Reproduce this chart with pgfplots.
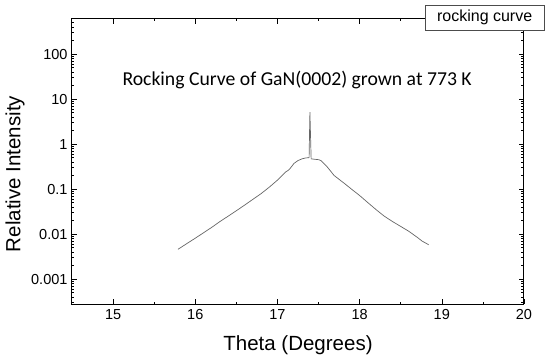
\documentclass[border=0pt]{standalone}
\usepackage{pgfplots}
\pgfplotsset{compat=1.18}
\usepackage{fontspec}
\setmainfont{Liberation Sans}
\newfontfamily\carlito{Carlito}
\begin{document}
\begin{tikzpicture}
\path[use as bounding box] (-72pt,-55pt) rectangle (478pt,304pt);
\begin{axis}[
  scale only axis, width=452pt, height=285pt,
  ymode=log,
  xmin=14.5, xmax=20, ymin=2.8e-4, ymax=600,
  xtick={15,16,17,18,19,20},
  minor x tick num=1,
  ytick={0.001,0.01,0.1,1,10,100},
  yticklabels={0.001,0.01,0.1,1,10,100},
  minor ytick={3e-4,4e-4,5e-4,6e-4,7e-4,8e-4,9e-4,
    0.002,0.003,0.004,0.005,0.006,0.007,0.008,0.009,
    0.02,0.03,0.04,0.05,0.06,0.07,0.08,0.09,
    0.2,0.3,0.4,0.5,0.6,0.7,0.8,0.9,
    2,3,4,5,6,7,8,9,20,30,40,50,60,70,80,90,200,300,400,500},
  tick align=inside,
  major tick length=5pt, minor tick length=2.5pt,
  every tick/.style={black, line width=0.6pt},
  axis line style={line width=1pt},
  /pgf/number format/assume math mode=true,
  ticklabel style={font=\fontsize{14.5}{16}\selectfont},
  xticklabel style={yshift=-2pt},
  yticklabel style={xshift=-1pt},
  xlabel={Theta (Degrees)},
  ylabel={Relative Intensity},
  xlabel style={font=\fontsize{20.5}{23}\selectfont, at={(axis description cs:0.5,-0.144)}, anchor=center},
  ylabel style={font=\fontsize{20.5}{23}\selectfont, at={(axis description cs:-0.126,0.456)}, anchor=center},
  clip=false,
]
\addplot[color=black!60, line width=0.7pt] coordinates {
(15.79,0.0046) (15.90,0.0062) (16.00,0.0081) (16.10,0.0107) (16.20,0.0141)
(16.30,0.019) (16.40,0.025) (16.50,0.033) (16.60,0.044) (16.70,0.059)
(16.80,0.079) (16.90,0.11) (17.00,0.158) (17.10,0.24) (17.13,0.26) (17.15,0.28)
(17.20,0.37) (17.25,0.43) (17.30,0.47) (17.34,0.49) (17.385,0.50)
(17.395,5.1) (17.41,0.47) (17.45,0.46) (17.50,0.45) (17.53,0.43)
(17.60,0.32) (17.69,0.20) (17.80,0.14) (17.90,0.10) (18.00,0.072)
(18.10,0.050) (18.20,0.035) (18.30,0.025) (18.40,0.019) (18.50,0.0148)
(18.60,0.0115) (18.70,0.0085) (18.76,0.0070) (18.84,0.0058)
};
\node[font=\carlito\fontsize{19.7}{22}\selectfont] at (axis description cs:0.498,0.786) {Rocking Curve of GaN(0002) grown at 773 K};
\node[draw=black!70, line width=0.5pt, fill=white, minimum width=119pt, minimum height=25pt, inner sep=0pt, font=\fontsize{16}{18}\selectfont] at (axis description cs:0.913,1.005) {rocking curve};
\end{axis}
\end{tikzpicture}
\end{document}
